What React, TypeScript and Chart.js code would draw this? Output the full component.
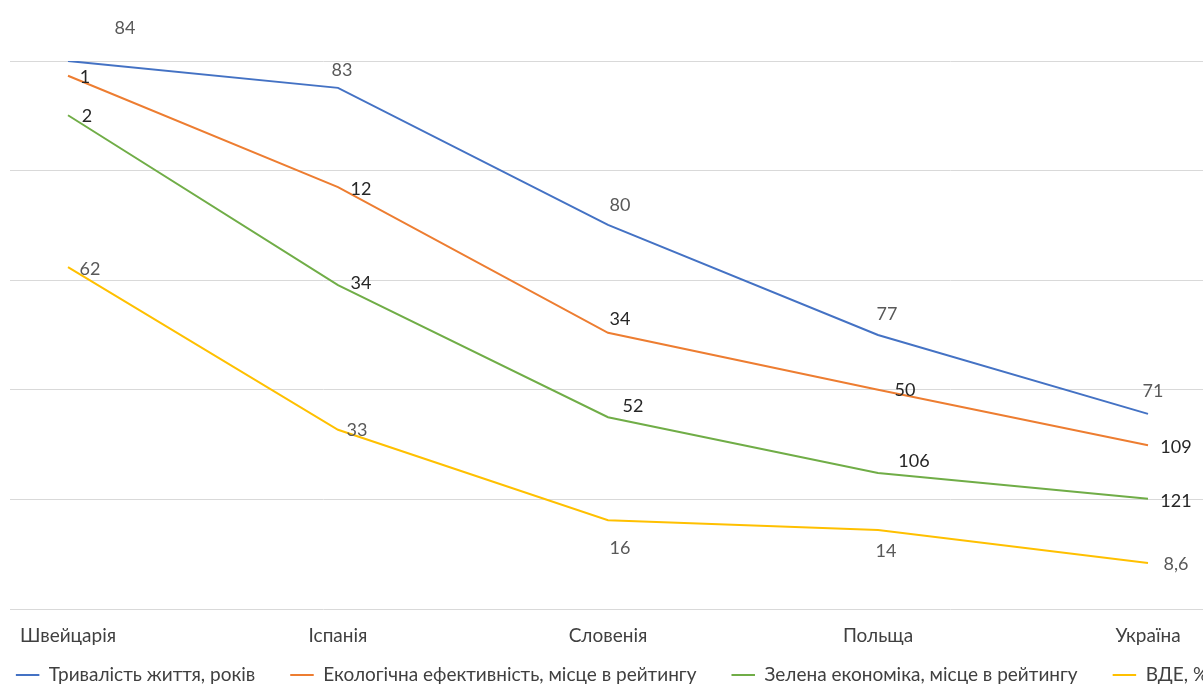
import React, { useEffect, useRef } from 'react';
import { Chart, registerables } from 'chart.js';

Chart.register(...registerables);

// ---- data ----
const categories = ['Швейцарія', 'Іспанія', 'Словенія', 'Польща', 'Україна'];
const seriesNames = [
  'Тривалість життя, років',
  'Екологічна ефективність, місце в рейтингу',
  'Зелена економіка, місце в рейтингу',
  'ВДЕ, %',
];
// plotted (relative) levels, hidden 0–100 axis
const lifeLevels = [100, 95.1, 70.1, 50, 35.6];
const ecoLevels = [97.3, 77, 50.4, 40, 29.9];
const greenLevels = [90.1, 59.1, 35, 24.8, 20.1];
const resLevels = [62.4, 32.7, 16.2, 14.4, 8.4];
// data labels shown on the chart
const lifeLabels = ['84', '83', '80', '77', '71'];
const ecoLabels = ['1', '12', '34', '50', '109'];
const greenLabels = ['2', '34', '52', '106', '121'];
const resLabels = ['62', '33', '16', '14', '8,6'];
const yTicks = [0, 20, 40, 60, 80, 100];

// ---- styles ----
const COLORS = ['#4472C4', '#ED7D31', '#70AD47', '#FFC000'];
const LABEL_COLORS = ['#595959', '#262626', '#262626', '#595959'];
const LABEL_OFFSETS: number[][][] = [
  [[57, -33], [4, -18], [12, -20], [9, -21], [5, -23]],
  [[17, 1], [23, 2], [12, -14], [27, 0], [28, 2]],
  [[19, 1], [23, -2], [25, -11], [36, -12], [28, 2]],
  [[22, 2], [19, 0], [12, 28], [8, 21], [28, 1]],
];
const FONT = 'Lato, "Open Sans", sans-serif';
const CANVAS_W = 1280;
const CANVAS_H = 727;
const LEGEND_LIFT = 32.5;

const dataLabelPlugin = {
  id: 'customDataLabels',
  afterDatasetsDraw(chart: any) {
    const ctx = chart.ctx;
    ctx.save();
    ctx.font = `18px ${FONT}`;
    ctx.textAlign = 'center';
    ctx.textBaseline = 'middle';
    chart.data.datasets.forEach((ds: any, di: number) => {
      const meta = chart.getDatasetMeta(di);
      meta.data.forEach((pt: any, i: number) => {
        const off = LABEL_OFFSETS[di][i];
        ctx.fillStyle = LABEL_COLORS[di];
        ctx.fillText(ds.pointLabels[i], pt.x + off[0], pt.y + off[1]);
      });
    });
    ctx.restore();
  },
};

// pull the legend row up, closer to the category labels
const legendLiftPlugin = {
  id: 'legendLift',
  afterLayout(chart: any) {
    const lg = chart.legend;
    if (lg) {
      lg.top -= LEGEND_LIFT;
      lg.bottom -= LEGEND_LIFT;
    }
  },
};

export default function App() {
  const ref = useRef<HTMLCanvasElement | null>(null);

  useEffect(() => {
    document.body.style.margin = '0';
    const canvas = ref.current;
    if (!canvas) return;
    const levels = [lifeLevels, ecoLevels, greenLevels, resLevels];
    const labels = [lifeLabels, ecoLabels, greenLabels, resLabels];
    const chart = new Chart(canvas, {
      type: 'line',
      data: {
        datasets: seriesNames.map((name, di) => ({
          label: name,
          data: levels[di].map((v, i) => ({ x: i, y: v })),
          pointLabels: labels[di],
          borderColor: COLORS[di],
          backgroundColor: COLORS[di],
          borderWidth: 2,
          pointRadius: 0,
          tension: 0,
        })) as any,
      },
      options: {
        animation: false,
        responsive: false,
        devicePixelRatio: 1,
        layout: { padding: { top: 61, left: -40, right: 16, bottom: 0 } },
        scales: {
          x: {
            type: 'linear',
            min: -0.2148,
            max: 4.4296,
            grid: { display: false, drawTicks: false },
            border: { display: false },
            afterBuildTicks: (axis: any) => {
              axis.ticks = categories.map((_, i) => ({ value: i }));
            },
            ticks: {
              color: '#404040',
              font: { family: FONT, size: 19 },
              padding: 15.6,
              maxRotation: 0,
              autoSkip: false,
              callback: (v: any) => categories[Math.round(Number(v))] ?? '',
            },
          },
          y: {
            min: 0,
            max: 100,
            afterBuildTicks: (axis: any) => {
              axis.ticks = yTicks.map((v) => ({ value: v }));
            },
            afterFit: (axis: any) => {
              axis.width = 50;
            },
            ticks: { display: false },
            border: { display: false },
            grid: { color: '#d9d9d9', lineWidth: 1, drawTicks: false },
          },
        },
        plugins: {
          legend: {
            position: 'bottom',
            labels: {
              usePointStyle: true,
              pointStyle: 'line',
              pointStyleWidth: 23.5,
              color: '#404040',
              font: { family: FONT, size: 19 },
              padding: 35,
            },
          },
          tooltip: { enabled: false },
        },
      } as any,
      plugins: [dataLabelPlugin, legendLiftPlugin],
    });
    return () => chart.destroy();
  }, []);

  return (
    <div style={{ width: 1203, height: 686, overflow: 'hidden', background: '#fff' }}>
      <div style={{ width: CANVAS_W, height: CANVAS_H }}>
        <canvas ref={ref} width={CANVAS_W} height={CANVAS_H} />
      </div>
    </div>
  );
}
